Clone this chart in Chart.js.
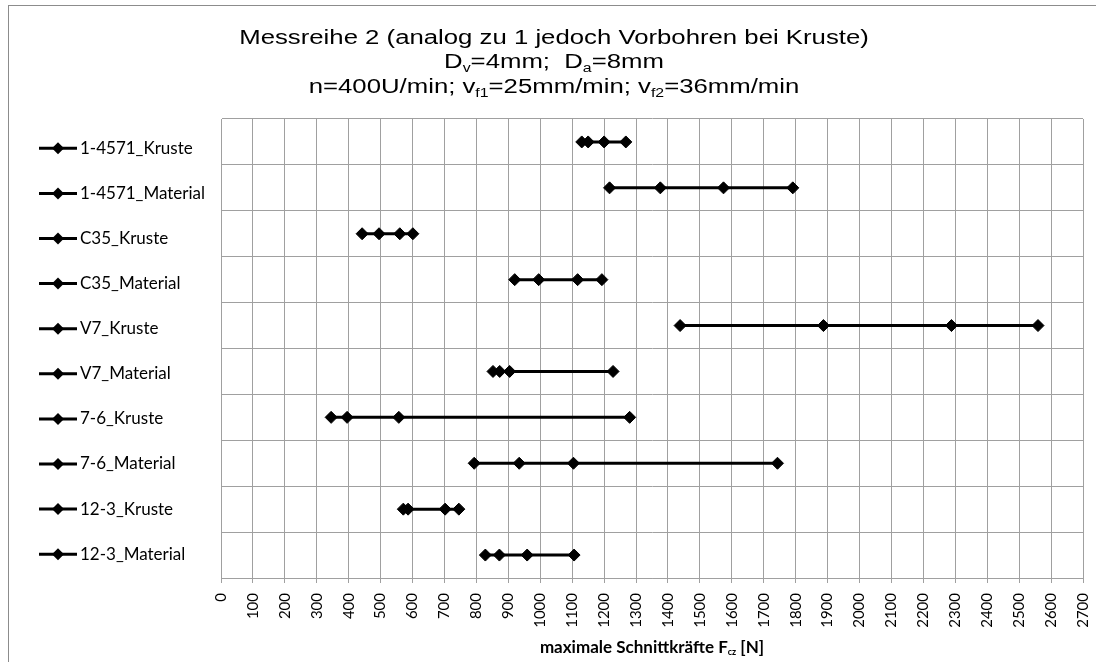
<!DOCTYPE html>
<html>
<head>
<meta charset="utf-8">
<script src="https://cdn.jsdelivr.net/npm/chart.js@4.4.0/dist/chart.umd.min.js"></script>
<style>
  html, body { margin: 0; padding: 0; background: #fff; }
</style>
</head>
<body>
<canvas id="chart" width="1096" height="662"></canvas>
<script>
// series names (legend, top to bottom)
const seriesNames = [
    '1-4571_Kruste', '1-4571_Material', 'C35_Kruste', 'C35_Material', 'V7_Kruste',
    'V7_Material', '7-6_Kruste', '7-6_Material', '12-3_Kruste', '12-3_Material'
];

// maximale Schnittkräfte [N]
const kruste4571 = [1130, 1150, 1200, 1268];
const material4571 = [1217, 1376, 1574, 1791];
const krusteC35 = [442, 495, 560, 601];
const materialC35 = [920, 995, 1117, 1193];
const krusteV7 = [1438, 1887, 2288, 2559];
const materialV7 = [852, 873, 904, 1228];
const kruste76 = [345, 395, 557, 1280];
const material76 = [793, 934, 1104, 1743];
const kruste123 = [571, 586, 702, 745];
const material123 = [828, 872, 959, 1106];

const seriesValues = [kruste4571, material4571, krusteC35, materialC35, krusteV7,
    materialV7, kruste76, material76, kruste123, material123];

const xMin = 0;
const xMax = 2700;
const xStep = 100;

const titleLines = [
    [{t: 'Messreihe 2 (analog zu 1 jedoch Vorbohren bei Kruste)'}],
    [{t: 'D'}, {t: 'v', sub: true}, {t: '=4mm;  D'}, {t: 'a', sub: true}, {t: '=8mm'}],
    [{t: 'n=400U/min; v'}, {t: 'f1', sub: true}, {t: '=25mm/min; v'}, {t: 'f2', sub: true}, {t: '=36mm/min'}]
];
const xAxisTitle = [{t: 'maximale Schnittkräfte F'}, {t: 'cz', sub: true}, {t: ' [N]'}];

const gridColor = '#a0a0a0';

// text with subscripts, optionally stretched horizontally
function drawRich(ctx, runs, cx, baseline, size, family, weight, sx, subScale, subDrop) {
    const mainFont = weight + ' ' + size + 'px ' + family;
    const subFont = weight + ' ' + Math.round(size * subScale) + 'px ' + family;
    const widths = runs.map(r => {
        ctx.font = r.sub ? subFont : mainFont;
        return ctx.measureText(r.t).width;
    });
    const total = widths.reduce((a, b) => a + b, 0);
    ctx.save();
    ctx.translate(cx, baseline);
    ctx.scale(sx, 1);
    ctx.fillStyle = '#000';
    ctx.textAlign = 'left';
    ctx.textBaseline = 'alphabetic';
    let x = -total / 2;
    runs.forEach((r, i) => {
        ctx.font = r.sub ? subFont : mainFont;
        ctx.fillText(r.t, x, r.sub ? subDrop : 0);
        x += widths[i];
    });
    ctx.restore();
}

function drawDiamond(ctx, x, y, r) {
    ctx.beginPath();
    ctx.moveTo(x - r, y);
    ctx.lineTo(x, y - r);
    ctx.lineTo(x + r, y);
    ctx.lineTo(x, y + r);
    ctx.closePath();
    ctx.fill();
}

const frameAndText = {
    id: 'frameAndText',
    beforeDraw(chart) {
        const ctx = chart.ctx;
        ctx.save();
        ctx.fillStyle = '#fff';
        ctx.fillRect(0, 0, chart.width, chart.height);
        ctx.strokeStyle = '#8c8c8c';
        ctx.lineWidth = 1;
        ctx.strokeRect(8.5, 5.5, chart.width + 20, chart.height + 20);
        ctx.restore();
    },
    afterDraw(chart) {
        const ctx = chart.ctx;
        const area = chart.chartArea;
        // title
        titleLines.forEach((line, i) => {
            drawRich(ctx, line, 554, 43.5 + i * 24.5, 19.5, '"Liberation Sans", Arial, sans-serif', 'normal', 1.32, 0.6, 4);
        });
        // x axis title
        drawRich(ctx, xAxisTitle, (area.left + area.right) / 2, 653, 17, 'Lato, sans-serif', 'bold', 1.0, 0.5, 2);
        // legend
        ctx.save();
        chart.data.datasets.forEach((ds, i) => {
            const y = 148.3 + i * 45.1;
            ctx.strokeStyle = '#000';
            ctx.fillStyle = '#000';
            ctx.lineWidth = 3;
            ctx.beginPath();
            ctx.moveTo(39, y);
            ctx.lineTo(77, y);
            ctx.stroke();
            drawDiamond(ctx, 58, y, 6);
            ctx.font = '17px Lato, sans-serif';
            ctx.textAlign = 'left';
            ctx.textBaseline = 'middle';
            ctx.fillText(ds.label, 80, y);
        });
        ctx.restore();
    }
};

const datasets = seriesNames.map((name, i) => ({
    label: name,
    data: seriesValues[i].map(v => ({x: v, y: name})),
    showLine: true,
    borderColor: '#000',
    backgroundColor: '#000',
    borderWidth: 3,
    pointStyle: 'rectRot',
    pointRadius: 6,
    pointBorderWidth: 1,
    tension: 0
}));

new Chart(document.getElementById('chart').getContext('2d'), {
    type: 'scatter',
    data: { datasets: datasets },
    options: {
        responsive: false,
        animation: false,
        layout: { padding: { top: 119, right: 13, bottom: 0, left: 0 } },
        plugins: {
            legend: { display: false },
            title: { display: false },
            tooltip: { enabled: false }
        },
        scales: {
            x: {
                type: 'linear',
                min: xMin,
                max: xMax,
                ticks: {
                    stepSize: xStep,
                    autoSkip: false,
                    minRotation: 90,
                    maxRotation: 90,
                    padding: 10,
                    color: '#000',
                    font: { family: 'Lato, sans-serif', size: 15 },
                    callback: v => String(v)
                },
                grid: { color: gridColor, tickLength: 5, tickColor: gridColor },
                border: { color: gridColor },
                afterFit: s => {
                    s.height = 84;
                    s.paddingLeft = 0;
                    s.paddingRight = 0;
                }
            },
            y: {
                type: 'category',
                labels: seriesNames,
                offset: true,
                ticks: { display: false },
                grid: { offset: true, color: gridColor, drawTicks: false },
                border: { color: gridColor },
                afterFit: s => {
                    s.width = 221;
                    s.paddingTop = 0;
                    s.paddingBottom = 0;
                }
            }
        }
    },
    plugins: [frameAndText]
});
</script>
</body>
</html>
